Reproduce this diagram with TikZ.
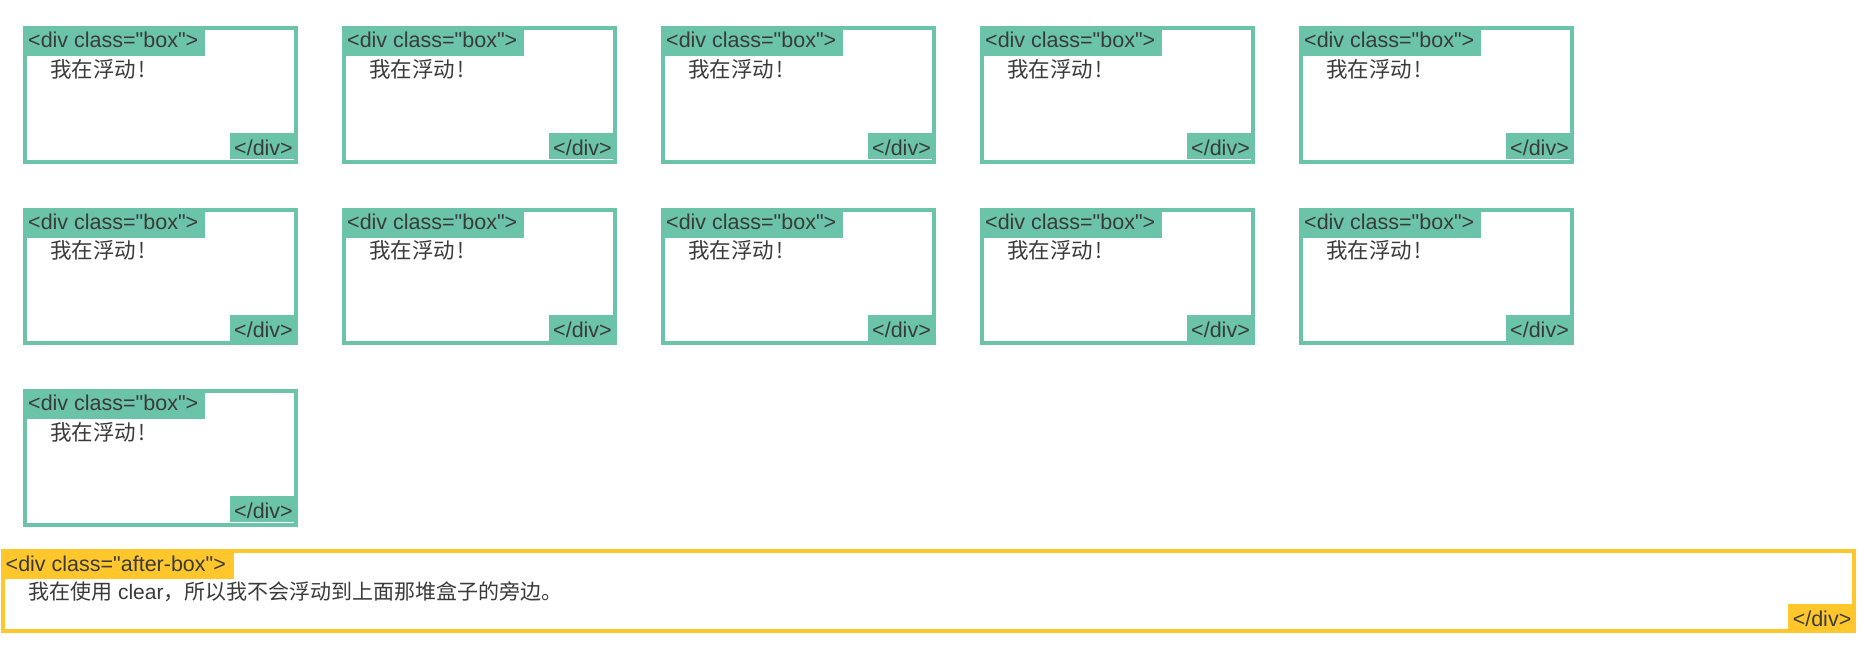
\documentclass[tikz,border=0pt]{standalone}
\usepackage{fontspec}
\newfontfamily\lat{Liberation Sans}
\newfontfamily\cjk{Noto Sans CJK SC}
\definecolor{boxgreen}{RGB}{107,196,169}
\definecolor{boxyellow}{RGB}{255,199,44}
\definecolor{txtgrey}{RGB}{58,58,58}
\tikzset{
  gborder/.style={draw=boxgreen, line width=4pt},
  yborder/.style={draw=boxyellow, line width=4pt},
  tagtext/.style={inner sep=0pt, text=txtgrey, font=\lat\fontsize{21.5pt}{25pt}\selectfont},
  cntext/.style={inner sep=0pt, text=txtgrey, font=\lat\fontsize{21.5pt}{25pt}\selectfont},
}
\newcommand\floatbox[3]{%
  \draw[gborder] ({#2+2},{#3+2}) rectangle ({#2+272.7},{#3+135.3});
  \fill[boxgreen] ({#2+4},{#3+4}) rectangle ({#2+181.7},{#3+29.7});
  \fill[boxgreen] ({#2+207},{#3+107}) rectangle ({#2+270.7},{#3+132.7});
  \node[tagtext, anchor=base west] (#1-open) at ({#2+5},{#3+21.3}) {<div class="box">};
  \node[cntext, anchor=base west] (#1-text) at ({#2+27},{#3+50.8}) {\cjk 我在浮动\kern2.5pt!};
  \node[tagtext, anchor=base east] (#1-close) at ({#2+270},{#3+129.3}) {</div>};
}
\begin{document}
\begin{tikzpicture}[x=1pt, y=-1pt]
\useasboundingbox[fill=white] (0,0) rectangle (1864,649);
% row 1
\floatbox{b11}{23}{26.2}
\floatbox{b12}{342}{26.2}
\floatbox{b13}{661}{26.2}
\floatbox{b14}{980}{26.2}
\floatbox{b15}{1299}{26.2}
% row 2
\floatbox{b21}{23}{207.8}
\floatbox{b22}{342}{207.8}
\floatbox{b23}{661}{207.8}
\floatbox{b24}{980}{207.8}
\floatbox{b25}{1299}{207.8}
% row 3
\floatbox{b31}{23}{389.3}
% after box
\draw[yborder] (2.5,551.3) rectangle (1854,631.3);
\fill[boxyellow] (4.5,553.3) rectangle (234,579);
\fill[boxyellow] (1788,604) rectangle (1852,629.3);
\node[tagtext, anchor=base west] (after-open) at (5.5,571) {<div class="after-box">};
\node[cntext, anchor=base west, font=\lat\fontsize{21pt}{25pt}\selectfont] (after-text) at (28,599.5) {{\cjk 我在使用} clear{\cjk ，所以我不会浮动到上面那堆盒子的旁边。}};
\node[tagtext, anchor=base east] (after-close) at (1851.5,626) {</div>};
\end{tikzpicture}
\end{document}
